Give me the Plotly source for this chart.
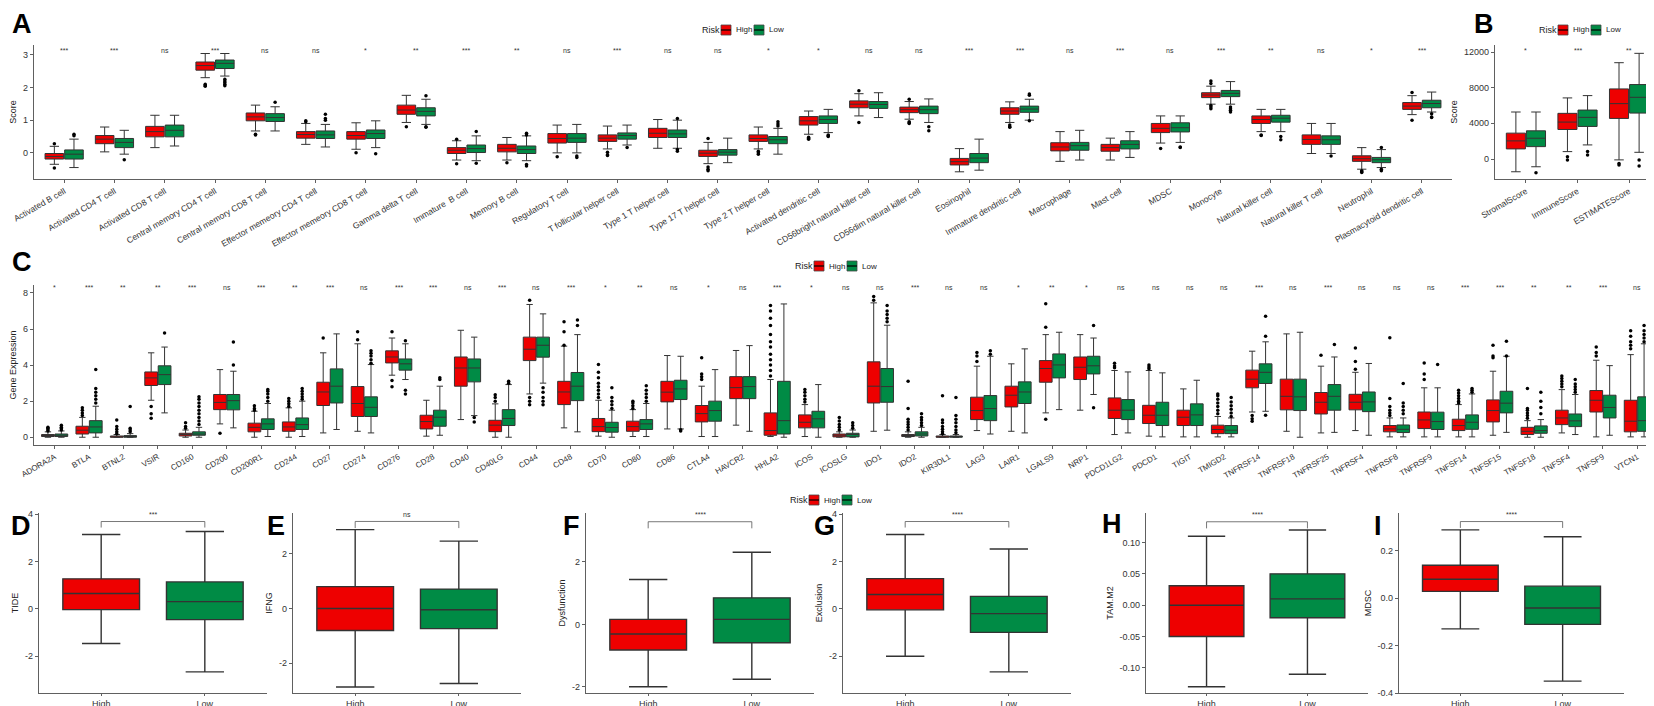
import plotly.graph_objects as go

W, H = 1654, 706
RED = "#EE0000"
GREEN = "#008B45"
FONT = "Liberation Sans"

# ---- panel A : immune cell scores (ssGSEA) ----
a_cells = ["Activated B cell", "Activated CD4 T cell", "Activated CD8 T cell",
           "Central memory CD4 T cell", "Central memory CD8 T cell",
           "Effector memeory CD4 T cell", "Effector memeory CD8 T cell",
           "Gamma delta T cell", "Immature  B cell", "Memory B cell",
           "Regulatory T cell", "T follicular helper cell", "Type 1 T helper cell",
           "Type 17 T helper cell", "Type 2 T helper cell", "Activated dendritic cell",
           "CD56bright natural killer cell", "CD56dim natural killer cell", "Eosinophil",
           "Immature dendritic cell", "Macrophage", "Mast cell", "MDSC", "Monocyte",
           "Natural killer cell", "Natural killer T cell", "Neutrophil",
           "Plasmacytoid dendritic cell"]
a_sig = ["***", "***", "ns", "***", "ns", "ns", "*", "**", "***", "**", "ns", "***", "ns",
         "ns", "*", "*", "ns", "ns", "***", "***", "ns", "***", "ns", "***", "**", "ns",
         "*", "***"]
# (lower whisker, q1, median, q3, upper whisker)
a_high = [(-0.35, -0.19, -0.11, -0.02, 0.2), (0.03, 0.28, 0.42, 0.53, 0.79),
          (0.16, 0.49, 0.65, 0.81, 1.15), (2.3, 2.53, 2.67, 2.78, 3.04),
          (0.67, 0.98, 1.1, 1.22, 1.46), (0.26, 0.45, 0.56, 0.65, 0.9),
          (0.11, 0.42, 0.53, 0.65, 0.92), (0.93, 1.18, 1.31, 1.46, 1.76),
          (-0.22, -0.02, 0.08, 0.16, 0.37), (-0.22, 0.03, 0.14, 0.26, 0.47),
          (0.0, 0.3, 0.44, 0.59, 0.85), (0.12, 0.35, 0.45, 0.55, 0.82),
          (0.14, 0.47, 0.6, 0.75, 1.02), (-0.33, -0.11, -0.01, 0.08, 0.32),
          (0.12, 0.35, 0.44, 0.55, 0.79), (0.57, 0.85, 0.98, 1.11, 1.28),
          (1.13, 1.38, 1.49, 1.59, 1.81), (1.03, 1.23, 1.32, 1.4, 1.57),
          (-0.58, -0.37, -0.27, -0.17, 0.13), (0.93, 1.18, 1.28, 1.38, 1.56),
          (-0.26, 0.06, 0.18, 0.31, 0.65), (-0.22, 0.05, 0.16, 0.26, 0.45),
          (0.3, 0.62, 0.75, 0.9, 1.13), (1.49, 1.69, 1.77, 1.84, 2.04),
          (0.65, 0.9, 1.02, 1.13, 1.33), (-0.02, 0.26, 0.41, 0.55, 0.9),
          (-0.5, -0.26, -0.18, -0.09, 0.16), (1.17, 1.33, 1.43, 1.54, 1.75)]
a_low = [(-0.45, -0.19, -0.04, 0.09, 0.42), (-0.04, 0.16, 0.32, 0.44, 0.69),
         (0.21, 0.49, 0.69, 0.85, 1.15), (2.35, 2.58, 2.74, 2.84, 3.04),
         (0.67, 0.96, 1.08, 1.2, 1.41), (0.18, 0.44, 0.55, 0.67, 0.87),
         (0.16, 0.44, 0.59, 0.7, 0.98), (0.87, 1.13, 1.27, 1.38, 1.64),
         (-0.24, 0.01, 0.13, 0.24, 0.52), (-0.24, -0.02, 0.1, 0.21, 0.52),
         (0.0, 0.32, 0.45, 0.59, 0.87), (0.24, 0.42, 0.53, 0.61, 0.85),
         (0.14, 0.47, 0.58, 0.7, 1.0), (-0.3, -0.07, 0.02, 0.1, 0.45),
         (-0.04, 0.28, 0.4, 0.5, 0.75), (0.62, 0.9, 1.02, 1.13, 1.33),
         (1.08, 1.36, 1.48, 1.57, 1.84), (0.93, 1.2, 1.32, 1.43, 1.65),
         (-0.53, -0.3, -0.16, -0.02, 0.42), (1.0, 1.24, 1.34, 1.43, 1.64),
         (-0.22, 0.08, 0.22, 0.32, 0.69), (-0.14, 0.12, 0.26, 0.37, 0.65),
         (0.32, 0.64, 0.77, 0.92, 1.13), (1.49, 1.72, 1.82, 1.91, 2.18),
         (0.65, 0.94, 1.06, 1.15, 1.33), (-0.02, 0.26, 0.4, 0.52, 0.9),
         (-0.45, -0.3, -0.21, -0.14, 0.1), (1.25, 1.38, 1.51, 1.61, 1.86)]
a_high_out = [[0.28, -0.46], [], [], [2.1, 2.06, 2.04], [0.57, 0.55], [0.95, 0.98], [0.0],
              [0.8], [0.42, -0.33], [-0.3], [-0.12], [0.02, -0.06, -0.08], [],
              [0.44, -0.43, -0.5, -0.55], [0.05, 0.0, -0.04], [0.48, 0.45, 0.42],
              [1.9, 0.93], [1.64, 0.95, 0.92, 0.9], [], [0.85, 0.8, 0.78], [], [],
              [0.13], [2.12, 2.2, 1.45, 1.4, 1.35], [0.55, 0.53], [],
              [-0.55, -0.58, -0.6], [1.85, 1.0]]
a_low_out = [[0.52, 0.57], [-0.21], [], [2.25, 2.2, 2.15, 2.1, 2.05], [1.55],
             [1.0, 1.05, 1.18], [-0.03], [1.75, 0.8, 0.78], [0.65, -0.32],
             [0.55, 0.6, -0.36, -0.4], [-0.1, -0.14], [0.16], [1.05, 0.1, 0.05], [],
             [0.82, 0.88, 0.95], [0.55, 0.52, 0.5], [], [0.8, 0.68], [],
             [1.76, 1.8, 0.98], [], [], [0.18, 0.16], [1.4, 1.35, 1.3, 1.25],
             [0.5, 0.4], [-0.1], [0.16, -0.5, -0.55], [1.2, 1.1, 1.08]]

# ---- panel B : ESTIMATE ----
b_scores = ["StromalScore", "ImmuneScore", "ESTIMATEScore"]
b_sig = ["*", "***", "**"]
b_high = [(-1430, 1130, 2030, 2900, 5270), (830, 3310, 4140, 5120, 6850),
          (-100, 4550, 6210, 7860, 10800)]
b_low = [(-870, 1390, 2330, 3160, 5270), (1580, 3650, 4670, 5490, 7110),
         (750, 5150, 6920, 8350, 11850)]
b_high_out = [[], [260, -110], [-500, -680]]
b_low_out = [[-1540], [830, 450], [-110, -790]]

# ---- panel C : immune checkpoint genes ----
c_genes = ["ADORA2A", "BTLA", "BTNL2", "VSIR", "CD160", "CD200", "CD200R1", "CD244",
           "CD27", "CD274", "CD276", "CD28", "CD40", "CD40LG", "CD44", "CD48", "CD70",
           "CD80", "CD86", "CTLA4", "HAVCR2", "HHLA2", "ICOS", "ICOSLG", "IDO1", "IDO2",
           "KIR3DL1", "LAG3", "LAIR1", "LGALS9", "NRP1", "PDCD1LG2", "PDCD1", "TIGIT",
           "TMIGD2", "TNFRSF14", "TNFRSF18", "TNFRSF25", "TNFRSF4", "TNFRSF8",
           "TNFRSF9", "TNFSF14", "TNFSF15", "TNFSF18", "TNFSF4", "TNFSF9", "VTCN1"]
c_sig = ["*", "***", "**", "**", "***", "ns", "***", "**", "***", "ns", "***", "***",
         "ns", "***", "ns", "***", "*", "**", "ns", "*", "ns", "***", "*", "ns", "ns",
         "***", "ns", "ns", "*", "**", "*", "ns", "ns", "ns", "ns", "***", "ns", "***",
         "ns", "ns", "ns", "***", "***", "**", "**", "***", "ns"]
c_high = [(0, 0.04, 0.09, 0.15, 0.3), (0, 0.18, 0.39, 0.61, 1.1), (0, 0, 0.02, 0.07, 0.15),
          (2.05, 2.87, 3.29, 3.62, 4.68), (0, 0.07, 0.15, 0.22, 0.4),
          (0.74, 1.53, 1.93, 2.37, 3.75), (0, 0.3, 0.55, 0.78, 1.44),
          (0, 0.33, 0.57, 0.85, 1.63), (0.24, 1.76, 2.51, 3.05, 4.68),
          (0.33, 1.15, 1.87, 2.81, 5.18), (3.44, 4.12, 4.45, 4.79, 5.5),
          (0.06, 0.46, 0.87, 1.22, 2.05), (0.98, 2.83, 3.84, 4.45, 5.93),
          (0, 0.31, 0.67, 0.94, 1.85), (2.4, 4.25, 4.88, 5.55, 7.36),
          (0.52, 1.81, 2.51, 3.1, 5.05), (0.06, 0.31, 0.59, 1.04, 2.05),
          (0.04, 0.33, 0.59, 0.89, 1.53), (0.46, 1.96, 2.5, 3.1, 4.53),
          (0.04, 0.85, 1.31, 1.76, 2.83), (0.67, 2.14, 2.75, 3.36, 4.81),
          (0.04, 0.11, 0.37, 1.35, 3.2), (0.04, 0.52, 0.83, 1.24, 1.81),
          (0, 0.02, 0.11, 0.18, 0.3), (0.33, 1.9, 2.83, 4.18, 7.45),
          (0, 0.04, 0.11, 0.15, 0.3), (0, 0, 0.02, 0.07, 0.15),
          (0.37, 0.98, 1.48, 2.22, 3.94), (0.33, 1.68, 2.33, 2.83, 4.07),
          (1.35, 3.05, 3.81, 4.25, 5.69), (1.5, 3.2, 3.88, 4.45, 5.69),
          (0.15, 1.04, 1.5, 2.18, 3.7), (0.06, 0.76, 1.22, 1.77, 3.7),
          (0.02, 0.65, 1.11, 1.5, 2.68), (0.02, 0.2, 0.43, 0.67, 1.15),
          (1.4, 2.74, 3.22, 3.72, 4.77), (0.33, 1.52, 2.27, 3.22, 5.73),
          (0.24, 1.29, 1.94, 2.48, 3.94), (0.37, 1.52, 1.94, 2.38, 3.6),
          (0.02, 0.3, 0.46, 0.65, 1.07), (0.02, 0.48, 0.96, 1.4, 2.74),
          (0.02, 0.37, 0.65, 1.0, 1.81), (0.11, 0.85, 1.48, 2.07, 3.66),
          (0, 0.15, 0.33, 0.55, 0.92), (0.24, 0.7, 1.07, 1.5, 2.64),
          (0.02, 1.4, 2.05, 2.59, 4.27), (0.02, 0.3, 0.89, 2.05, 4.58)]
c_low = [(0, 0.04, 0.11, 0.18, 0.35), (0, 0.24, 0.57, 0.92, 1.72), (0, 0, 0.04, 0.09, 0.2),
         (1.35, 2.92, 3.47, 3.96, 5.0), (0, 0.11, 0.18, 0.3, 0.55),
         (0.52, 1.52, 2.03, 2.37, 3.66), (0.04, 0.43, 0.74, 1.02, 1.87),
         (0.04, 0.43, 0.7, 1.07, 2.0), (0.43, 1.9, 2.83, 3.79, 5.73),
         (0.24, 1.15, 1.66, 2.24, 4.03), (3.2, 3.72, 4.07, 4.34, 5.18),
         (0.11, 0.61, 1.11, 1.5, 2.83), (1.2, 3.07, 3.84, 4.34, 5.55),
         (0, 0.65, 1.04, 1.53, 2.92), (3.0, 4.44, 5.1, 5.55, 6.84),
         (0.3, 2.03, 2.83, 3.59, 5.69), (0, 0.28, 0.54, 0.83, 1.5),
         (0.04, 0.43, 0.74, 0.98, 1.87), (0.46, 2.09, 2.68, 3.16, 4.49),
         (0.04, 0.89, 1.48, 2.0, 3.75), (0.33, 2.14, 2.81, 3.36, 5.08),
         (0, 0.18, 0.92, 3.1, 7.39), (0, 0.52, 1.02, 1.44, 2.92),
         (0, 0.02, 0.15, 0.22, 0.4), (0.39, 1.94, 2.81, 3.81, 6.21),
         (0, 0.07, 0.18, 0.3, 0.55), (0, 0, 0.04, 0.07, 0.15),
         (0.18, 0.92, 1.59, 2.31, 4.49), (0.24, 1.87, 2.51, 3.07, 4.9),
         (1.53, 3.29, 4.01, 4.62, 5.82), (2.37, 3.51, 3.96, 4.49, 5.5),
         (0.24, 0.98, 1.5, 2.09, 3.62), (0.02, 0.65, 1.22, 1.94, 3.57),
         (0.02, 0.65, 1.24, 1.85, 3.16), (0.02, 0.2, 0.39, 0.65, 1.07),
         (1.44, 2.98, 3.6, 4.07, 5.29), (0, 1.48, 2.24, 3.22, 5.82),
         (0.27, 1.5, 2.27, 2.92, 4.45), (0.11, 1.42, 1.96, 2.51, 4.09),
         (0.02, 0.26, 0.44, 0.68, 1.07), (0.02, 0.43, 0.87, 1.39, 2.74),
         (0.02, 0.44, 0.83, 1.24, 2.4), (0.27, 1.35, 1.89, 2.55, 4.49),
         (0, 0.22, 0.37, 0.63, 0.98), (0.15, 0.59, 0.91, 1.29, 2.37),
         (0.11, 1.07, 1.65, 2.33, 3.97), (0.02, 0.33, 0.92, 2.24, 5.18)]
c_high_out = [[0.35, 0.42, 0.5, 0.55], [1.2, 1.35, 1.5, 1.63], [0.2, 0.3, 0.45, 0.6, 0.95],
              [1.7, 1.3, 1.05], [0.5, 0.6, 0.8], [0.22], [1.5, 1.6, 1.75],
              [1.7, 1.85, 2.0, 2.15], [5.5], [5.4, 5.85], [5.85, 3.15, 2.8], [], [],
              [2.0, 2.2, 2.35], [1.8, 2.0, 2.2, 7.6], [5.1, 5.85, 6.4],
              [2.2, 2.4, 2.6, 2.8, 3.0, 3.3, 3.6, 4.03], [1.6, 1.75, 1.9, 2.0], [],
              [3.2, 3.35, 3.5, 4.4], [],
              [3.4, 3.7, 4.0, 4.3, 4.6, 5.0, 5.3, 5.7, 6.2, 6.6, 7.0, 7.3],
              [1.95, 2.1, 2.3, 2.5, 2.65], [0.4, 0.55, 0.7, 0.9, 1.1], [7.6, 7.8],
              [0.4, 0.55, 0.7, 0.85, 1.0, 1.6, 3.1], [0.2, 0.3, 0.45, 0.6, 0.8, 0.95, 2.3],
              [4.2, 4.5, 4.7], [], [1.0, 6.1, 7.4], [], [3.85, 3.95, 4.1],
              [3.8, 3.9, 4.0], [], [1.3, 1.5, 1.7, 1.9, 2.1, 2.3, 2.4], [1.2, 1.03, 0.89],
              [], [4.55], [3.77, 4.2, 4.95], [1.2, 1.35, 1.5, 1.7, 2.15, 5.51],
              [3.2, 3.5, 4.12], [1.9, 2.0, 2.15, 2.3, 2.45, 2.6], [4.4, 4.5, 5.1],
              [1.05, 1.2, 1.35, 1.5, 1.6, 2.7], [2.8, 2.95, 3.1, 3.25, 3.4],
              [4.5, 4.7, 5.0], [4.9, 5.1, 5.3, 5.6, 5.9]]
c_low_out = [[0.4, 0.48, 0.55, 0.67], [1.9, 2.1, 2.3, 2.5, 2.7, 3.75], [0.3, 0.4, 0.5, 1.7],
             [5.78], [0.7, 0.9, 1.1, 1.3, 1.5, 1.7, 1.9, 2.1, 2.25], [4.0, 5.28],
             [2.0, 2.2, 2.4, 2.55, 2.65], [2.1, 2.25, 2.4, 2.55, 2.7], [],
             [4.1, 4.3, 4.5, 4.65, 4.8], [5.35, 2.6, 2.4], [3.2, 3.3], [0.85, 1.1],
             [3.0, 3.1], [1.8, 2.0, 2.2, 2.5, 2.75], [6.2, 6.5], [1.6, 1.8, 2.0, 2.2, 2.75],
             [2.0, 2.2, 2.4, 2.6, 2.85], [0.42, 0.35], [], [], [], [], [0.5, 0.65, 0.8],
             [6.4, 6.6, 6.8, 7.0, 7.3], [0.65, 0.8, 0.95, 1.1, 1.3],
             [0.25, 0.4, 0.6, 0.8, 1.0, 1.2, 2.2], [4.6, 4.8], [], [], [6.2, 1.63], [], [],
             [], [1.15, 1.35, 1.55, 1.75, 1.95, 2.2], [1.22, 5.6, 6.71], [], [5.14], [],
             [1.3, 1.5, 1.7, 1.9, 2.98], [4.03], [2.5, 2.6, 2.7], [4.5, 5.32],
             [1.3, 1.65, 2.0, 2.5], [2.5, 2.65, 2.8, 2.95, 3.2], [],
             [5.3, 5.5, 5.7, 5.9, 6.2]]

# ---- panels D-I : TIDE ----
tide_names = ["TIDE", "IFNG", "Dysfunction", "Exclusion", "TAM.M2", "MDSC"]
tide_sig = ["***", "ns", "****", "****", "****", "****"]
tide_high = [(-1.46, -0.03, 0.65, 1.27, 3.14), (-2.88, -0.81, 0.0, 0.8, 2.89),
             (-2.0, -0.82, -0.31, 0.16, 1.44), (-2.0, -0.04, 0.61, 1.28, 3.14),
             (-0.13, -0.05, 0.0, 0.031, 0.11), (-0.13, 0.028, 0.079, 0.138, 0.287)]
tide_low = [(-2.66, -0.45, 0.31, 1.14, 3.27), (-2.75, -0.74, -0.05, 0.71, 2.47),
            (-1.76, -0.59, 0.16, 0.85, 2.31), (-2.66, -0.99, -0.2, 0.53, 2.53),
            (-0.11, -0.02, 0.01, 0.05, 0.12), (-0.35, -0.111, -0.042, 0.05, 0.258)]
tide_bracket = [3.69, 3.19, 3.29, 3.69, 0.133, 0.322]
groups = ["High", "Low"]


def px_x(p):
    return p / W


def px_y(p):
    return 1 - p / H


fig = go.Figure()


def add_boxes(ax, positions, stats, color, name, width, outs=None, lw=1):
    fig.add_trace(go.Box(
        x=positions, orientation="v",
        lowerfence=[s[0] for s in stats], q1=[s[1] for s in stats],
        median=[s[2] for s in stats], q3=[s[3] for s in stats],
        upperfence=[s[4] for s in stats],
        width=width, fillcolor=color, line=dict(color="#333333", width=lw),
        name=name, showlegend=False, boxpoints=False,
        hoverinfo="skip", xaxis="x" + ax, yaxis="y" + ax))
    if outs:
        ox, oy = [], []
        for p, pts in zip(positions, outs):
            ox += [p] * len(pts)
            oy += pts
        fig.add_trace(go.Scatter(x=ox, y=oy, mode="markers", showlegend=False,
                                 marker=dict(color="black", size=3.5), hoverinfo="skip",
                                 xaxis="x" + ax, yaxis="y" + ax))


def add_grouped(ax, cats, high, low, high_out, low_out, sig, sig_y):
    n = len(cats)
    add_boxes(ax, [i - 0.195 for i in range(n)], high, RED, "High", 0.37, high_out)
    add_boxes(ax, [i + 0.195 for i in range(n)], low, GREEN, "Low", 0.37, low_out)
    for i, s in enumerate(sig):
        fig.add_annotation(x=i, y=sig_y, text=s, xref="x" + ax, yref="y" + ax,
                           showarrow=False, font=dict(size=7, color="#333333"))


add_grouped("", a_cells, a_high, a_low, a_high_out, a_low_out, a_sig, 3.12)
add_grouped("2", b_scores, b_high, b_low, b_high_out, b_low_out, b_sig, 12220)
add_grouped("3", c_genes, c_high, c_low, c_high_out, c_low_out, c_sig, 8.28)

for k in range(6):
    ax = str(k + 4)
    add_boxes(ax, [0], [tide_high[k]], RED, "High", 0.74, lw=1.4)
    add_boxes(ax, [1], [tide_low[k]], GREEN, "Low", 0.74, lw=1.4)
    span = tide_bracket[k] - min(tide_high[k][0], tide_low[k][0])
    b = tide_bracket[k]
    leg = b - 0.04 * span
    fig.add_trace(go.Scatter(x=[0, 0, 1, 1], y=[leg, b, b, leg], mode="lines",
                             line=dict(color="#555555", width=0.8), showlegend=False,
                             hoverinfo="skip", xaxis="x" + ax, yaxis="y" + ax))
    fig.add_annotation(x=0.5, y=b, yshift=7, text=tide_sig[k], xref="x" + ax,
                       yref="y" + ax, showarrow=False, font=dict(size=7, color="#333333"))

axis_style = dict(showline=True, linecolor="#606060", linewidth=1.3, ticks="outside",
                  ticklen=3, tickcolor="#606060", showgrid=False, zeroline=False,
                  automargin=False, tickfont=dict(family=FONT, size=9, color="#333333"))


def xaxis(dom, cats, rng, angle, size):
    d = dict(axis_style, domain=[px_x(dom[0]), px_x(dom[1])], range=rng,
             tickvals=list(range(len(cats))), ticktext=cats, tickangle=angle)
    d["tickfont"] = dict(family=FONT, size=size, color="#333333")
    return d


def yaxis(dom, anchor, rng, ticks, title, labels=None):
    return dict(axis_style, domain=[px_y(dom[1]), px_y(dom[0])], range=rng,
                anchor=anchor, tickvals=ticks,
                ticktext=labels if labels else [f"{v:g}" for v in ticks],
                title=dict(text=title, font=dict(family=FONT, size=9, color="#222222"),
                           standoff=4))


layout = {}
layout["xaxis"] = xaxis((26, 1444), a_cells, [-0.6, 27.6], -30, 8.5)
layout["yaxis"] = yaxis((37, 171), "x", [-0.8, 3.3], [0, 1, 2, 3], "Score")
layout["xaxis2"] = xaxis((1487, 1652), b_scores, [-0.6, 2.6], -30, 8.5)
layout["yaxis2"] = yaxis((37, 171), "x2", [-2243, 12785], [0, 4000, 8000, 12000], "Score")
layout["xaxis3"] = xaxis((26, 1650), c_genes, [-0.6, 46.6], -30, 8)
layout["yaxis3"] = yaxis((277, 437), "x3", [-0.43, 8.44], [0, 2, 4, 6, 8], "Gene Expression")
for a in ["xaxis", "xaxis2", "xaxis3"]:
    layout[a]["anchor"] = "y" + a[5:]

tide_x = [(31, 259), (285, 513), (578, 806), (835, 1063), (1138, 1360), (1391, 1616)]
tide_ranges = [[-3.55, 4.05], [-3.1, 3.5], [-2.2, 3.57], [-3.55, 4.05],
               [-0.14, 0.147], [-0.4, 0.358]]
tide_ticks = [[-2, 0, 2, 4], [-2, 0, 2], [-2, 0, 2], [-2, 0, 2, 4],
              [-0.1, -0.05, 0, 0.05, 0.1], [-0.4, -0.2, 0, 0.2]]
tide_labels = [None, None, None, None,
               ["-0.10", "-0.05", "0.00", "0.05", "0.10"], ["-0.4", "-0.2", "0.0", "0.2"]]
for k in range(6):
    n = str(k + 4)
    xa = xaxis(tide_x[k], groups, [-0.6, 1.6], 0, 9)
    xa["anchor"] = "y" + n
    xa["ticklen"] = 2
    layout["xaxis" + n] = xa
    layout["yaxis" + n] = yaxis((505, 685), "x" + n, tide_ranges[k], tide_ticks[k],
                                tide_names[k], tide_labels[k])


def draw_legend(x0, yc):
    # "Risk  [box] High  [box] Low" key, drawn like the ggplot legend
    fig.add_annotation(x=px_x(x0), y=px_y(yc), xref="paper", yref="paper", text="Risk",
                       xanchor="left", yanchor="middle", showarrow=False,
                       font=dict(family=FONT, size=9, color="#222222"))
    for j, (lab, col) in enumerate(zip(groups, [RED, GREEN])):
        kx = x0 + 21 + j * 33
        fig.add_shape(type="rect", xref="paper", yref="paper",
                      x0=px_x(kx), x1=px_x(kx + 10), y0=px_y(yc + 5), y1=px_y(yc - 5),
                      fillcolor=col, line=dict(color="#444444", width=0.8))
        fig.add_shape(type="line", xref="paper", yref="paper",
                      x0=px_x(kx), x1=px_x(kx + 10), y0=px_y(yc), y1=px_y(yc),
                      line=dict(color="black", width=1.2))
        fig.add_annotation(x=px_x(kx + 13), y=px_y(yc), xref="paper", yref="paper",
                           text=lab, xanchor="left", yanchor="middle", showarrow=False,
                           font=dict(family=FONT, size=8, color="#222222"))


draw_legend(692, 22)
draw_legend(1529, 22)
draw_legend(785, 258)
draw_legend(780, 492)

letters = [("A", 14, 16), ("B", 1476, 16), ("C", 14, 254), ("D", 13, 518),
           ("E", 268, 518), ("F", 563, 518), ("G", 816, 518), ("H", 1104, 516),
           ("I", 1370, 518)]
for t, lx, ly in letters:
    fig.add_annotation(x=px_x(lx), y=px_y(ly), xref="paper", yref="paper", text=f"<b>{t}</b>",
                       xanchor="center", yanchor="middle", showarrow=False,
                       font=dict(family=FONT, size=27, color="black"))

fig.update_layout(width=W, height=H, margin=dict(l=0, r=0, t=0, b=0),
                  plot_bgcolor="white", paper_bgcolor="white", showlegend=False,
                  font=dict(family=FONT, color="#222222"), **layout)

fig.write_html("out.html")
